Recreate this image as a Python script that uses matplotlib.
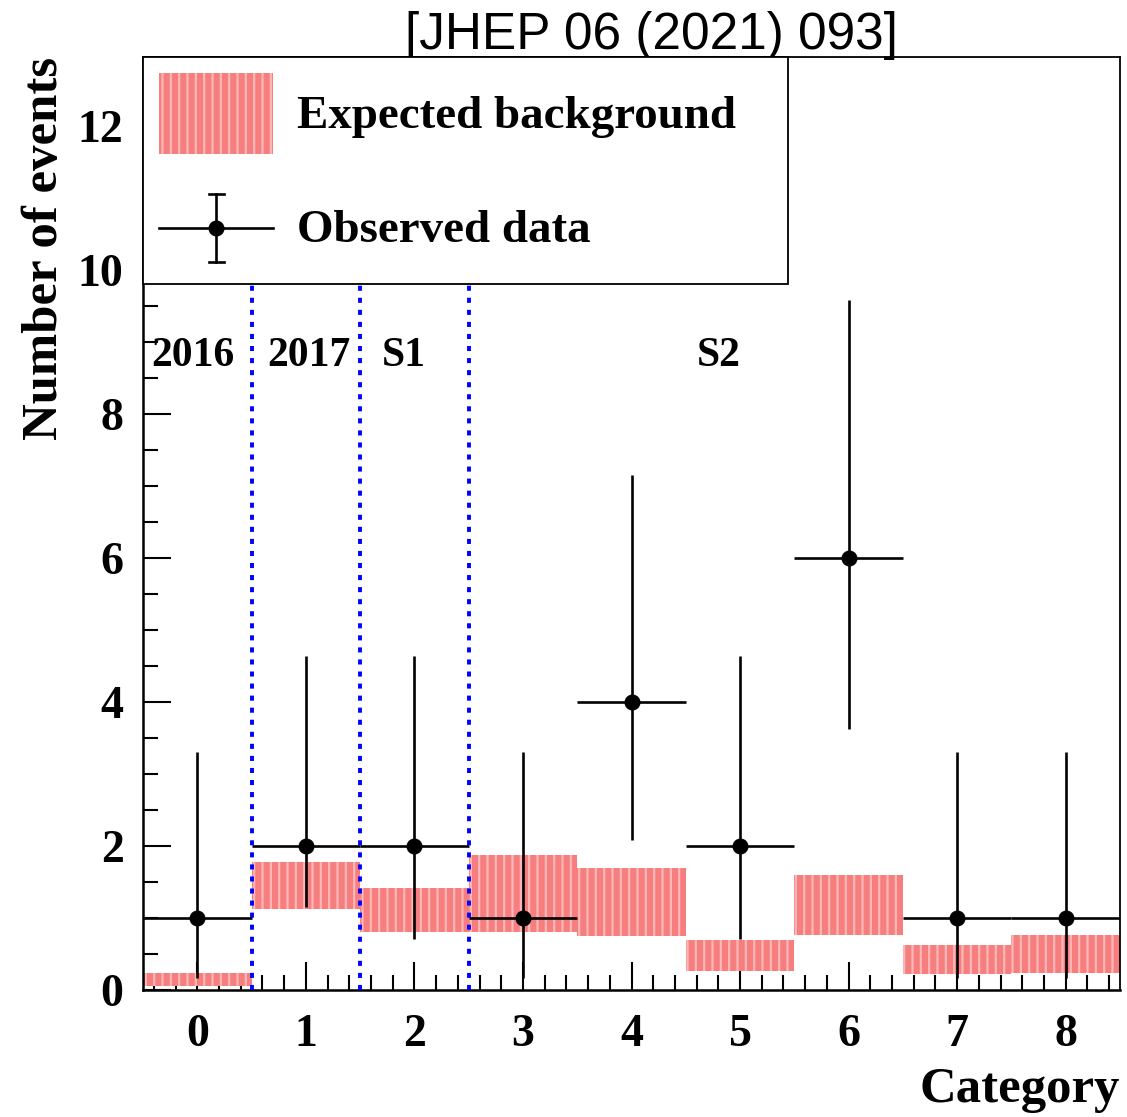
import numpy as np
import matplotlib
matplotlib.use("Agg")
import matplotlib.pyplot as plt
from matplotlib.lines import Line2D
from matplotlib.patches import Patch
from matplotlib.legend_handler import HandlerBase

plt.rcParams['font.family'] = ['Liberation Serif', 'DejaVu Serif']
plt.rcParams['font.weight'] = 'bold'
plt.rcParams['hatch.linewidth'] = 1.6

# data
categories = np.arange(9)
observed = np.array([1, 2, 2, 1, 4, 2, 6, 1, 1])
obs_low = np.array([0.17, 1.15, 0.71, 0.17, 2.09, 0.71, 3.62, 0.17, 0.17])
obs_high = np.array([3.30, 4.64, 4.64, 3.30, 7.16, 4.64, 9.58, 3.30, 3.30])
bkg_low = np.array([0.06, 1.12, 0.81, 0.81, 0.75, 0.27, 0.77, 0.22, 0.23])
bkg_high = np.array([0.24, 1.78, 1.41, 1.87, 1.69, 0.69, 1.60, 0.63, 0.76])
boundaries = [0.5, 1.5, 2.5]
region_labels = ["2016", "2017", "S1", "S2"]
region_x = [-0.04, 1.03, 1.9, 4.8]

W, H = 1127, 1117
fig = plt.figure(figsize=(W/100, H/100), dpi=100)
ax = fig.add_axes([143/W, 1-990/H, 977/W, 933/H])

bkg_color = '#f67e7e'
ax.bar(categories, bkg_high-bkg_low, bottom=bkg_low, width=1.0,
       color=bkg_color, edgecolor='#fbb8b8', hatch='||', linewidth=0, zorder=2)

ax.errorbar(categories, observed, xerr=0.5,
            yerr=[observed-obs_low, obs_high-observed],
            fmt='o', color='black', markersize=10.5, elinewidth=1.9,
            capsize=0, zorder=4)

for b in boundaries:
    ax.axvline(b, color='blue', lw=2.8, linestyle=(0, (1.3, 1.8)), zorder=3)

for lab, xx in zip(region_labels, region_x):
    ax.text(xx, 8.67, lab, ha='center', va='baseline', fontsize=30,
            fontweight='bold', zorder=5)

ax.set_xlim(-0.5, 8.5)
ax.set_ylim(0, 12.96)
ax.set_xticks(categories)
ax.set_xticks(np.arange(-0.4, 8.5, 0.2), minor=True)
ax.set_yticks(np.arange(0, 13, 2))
ax.set_yticks(np.arange(0, 13, 0.5), minor=True)
ax.tick_params(which='both', direction='in', top=False, right=False,
               width=1.5, labelsize=33)
ax.tick_params(which='major', length=20)
ax.tick_params(which='minor', length=10.5)
ax.tick_params(axis='x', pad=17)
ax.tick_params(axis='y', pad=14)
for s in ax.spines.values():
    s.set_linewidth(1.3)
ax.spines['left'].set_linewidth(1.8)
ax.spines['bottom'].set_linewidth(1.8)

fig.text(45/W, 1-57/H, "Number of events", rotation=90, ha='center',
         va='top', fontsize=36.5, fontweight='bold')
fig.text(1120/W, 1-1090/H, "Category", ha='right', va='center',
         fontsize=36.5, fontweight='bold')
fig.text(651/W, 1-35/H, "[JHEP 06 (2021) 093]", ha='center', va='center',
         fontsize=37, fontweight='normal', family='Liberation Sans')


class DataHandler(HandlerBase):
    def create_artists(self, legend, orig_handle, xdescent, ydescent,
                       width, height, fontsize, trans):
        cx = width/2 - xdescent
        cy = height/2 - ydescent
        hl, cw = 24.5, 5.5
        arts = [
            Line2D([-xdescent, width-xdescent], [cy, cy], color='black', lw=1.9),
            Line2D([cx, cx], [cy-hl, cy+hl], color='black', lw=1.9),
            Line2D([cx-cw, cx+cw], [cy+hl, cy+hl], color='black', lw=1.9),
            Line2D([cx-cw, cx+cw], [cy-hl, cy-hl], color='black', lw=1.9),
            Line2D([cx], [cy], marker='o', color='black', markersize=10.5),
        ]
        for a in arts:
            a.set_transform(trans)
        return arts


bkg_handle = Patch(facecolor=bkg_color, edgecolor='#fbb8b8', hatch='||', linewidth=0)
data_handle = Line2D([], [])
leg = fig.legend([bkg_handle, data_handle],
                 ["Expected background", "Observed data"],
                 handler_map={Line2D: DataHandler()},
                 loc='upper left', bbox_to_anchor=(143/W, 1-57/H, 645/W, 0.0001),
                 mode='expand', borderaxespad=0,
                 handlelength=2.42, handleheight=2.26, labelspacing=0.72,
                 borderpad=0.35, handletextpad=0.5, fancybox=False,
                 framealpha=1, edgecolor='black',
                 prop={'family': 'Liberation Serif', 'weight': 'bold', 'size': 33.8})
leg.get_frame().set_linewidth(1.3)
leg.set_zorder(10)

fig.savefig("out.png", dpi=100)
